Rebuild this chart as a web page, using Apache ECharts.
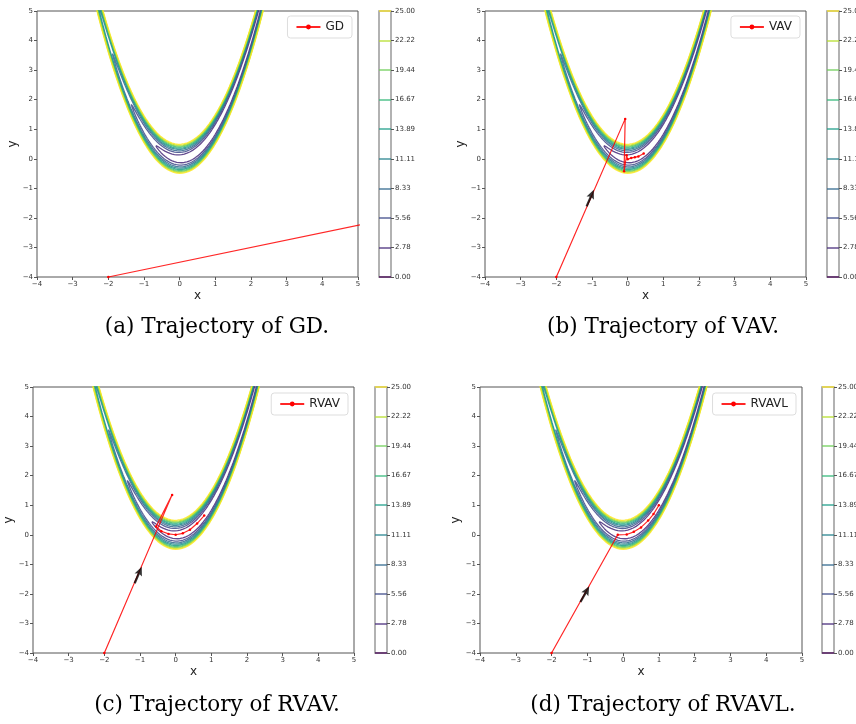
<!DOCTYPE html>
<html>
<head>
<meta charset="utf-8">
<script src="https://cdn.jsdelivr.net/npm/echarts@6/dist/echarts.min.js"></script>
<style>
  html, body { margin: 0; padding: 0; background: #fff; }
  #chart { width: 856px; height: 724px; }
</style>
</head>
<body>
<div id="chart"></div>
<script>
// contour levels shown on the colorbars and their viridis colours
const levels = [0, 2.78, 5.56, 8.33, 11.11, 13.89, 16.67, 19.44, 22.22, 25];
const levelColors = ['#440154', '#472a7a', '#3e4a89', '#31688e', '#26828e',
                     '#1f9e89', '#35b779', '#6ece58', '#b5de2b', '#fde725'];
// Rosenbrock f(x,y) = (a-x)^2 + b(y-x^2)^2
const rosenA = 1;
const rosenB = 100;

// trajectories
const gdX = [-2, 12];
const gdY = [-4, -0.5];
const vavX = [-2, -0.07, -0.1, -0.03, 0.0, 0.1, 0.2, 0.3, 0.45];
const vavY = [-4, 1.35, -0.42, 0.12, -0.02, 0.03, 0.05, 0.08, 0.18];
const rvavX = [-2, -0.1, -0.55, -0.4, -0.2, 0.0, 0.2, 0.4, 0.6, 0.8];
const rvavY = [-4, 1.35, 0.28, 0.12, 0.03, 0.0, 0.05, 0.17, 0.38, 0.65];
const rvavlX = [-2, -0.15, 0.1, 0.3, 0.5, 0.7, 0.85, 1.0];
const rvavlY = [-4, 0.0, 0.01, 0.1, 0.25, 0.48, 0.7, 1.0];
// black arrow markers (centre point) for b, c, d
const arrowX = [null, -1.05, -1.05, -1.07];
const arrowY = [null, -1.33, -1.36, -2.01];

const names = ['GD', 'VAV', 'RVAV', 'RVAVL'];
const captions = ['(a) Trajectory of GD.', '(b) Trajectory of VAV.',
                  '(c) Trajectory of RVAV.', '(d) Trajectory of RVAVL.'];
const trajX = [gdX, vavX, rvavX, rvavlX];
const trajY = [gdY, vavY, rvavY, rvavlY];

const mainGrids = [
  {left: 37, top: 11, width: 321, height: 266},
  {left: 485, top: 11, width: 321, height: 266},
  {left: 33, top: 387, width: 321, height: 266},
  {left: 480, top: 387, width: 322, height: 266}
];
const barGrids = [
  {left: 379, top: 11, width: 12, height: 266},
  {left: 827, top: 11, width: 12, height: 266},
  {left: 375, top: 387, width: 12, height: 266},
  {left: 822, top: 387, width: 12, height: 266}
];
const legendPos = [
  {right: 504, top: 16}, {right: 56, top: 16},
  {right: 508, top: 393}, {right: 60, top: 393}
];
const captionPos = [[217, 327], [663, 327], [217, 705], [663, 705]];

function contourLine(c) {
  const pts = [];
  const n = 720;
  for (let i = 0; i <= n; i++) {
    const t = 2 * Math.PI * i / n;
    const x = rosenA - Math.sqrt(c) * Math.cos(t);
    pts.push([x, x * x + Math.sqrt(c / rosenB) * Math.sin(t)]);
  }
  return pts;
}

const mfmt = v => (v < 0 ? '\u2212' + (-v) : '' + v);
const tickFont = {fontFamily: 'DejaVu Sans', fontSize: 7, color: '#333'};

const grid = [], xAxis = [], yAxis = [], series = [], legend = [], graphic = [];

for (let p = 0; p < 4; p++) {
  grid.push(Object.assign({show: true, borderColor: '#555', borderWidth: 1,
    containLabel: false, outerBoundsMode: 'none'}, mainGrids[p]));
  xAxis.push({
    type: 'value', gridIndex: p, min: -4, max: 5, interval: 1,
    name: 'x', nameLocation: 'middle', nameGap: 13,
    nameTextStyle: {fontFamily: 'DejaVu Sans', fontSize: 12, color: '#222'},
    axisLine: {show: false, onZero: false}, splitLine: {show: false},
    axisTick: {show: true, length: 3, lineStyle: {color: '#555'}},
    axisLabel: Object.assign({margin: 4, formatter: mfmt}, tickFont)
  });
  yAxis.push({
    type: 'value', gridIndex: p, min: -4, max: 5, interval: 1,
    name: 'y', nameLocation: 'middle', nameGap: 16,
    nameTextStyle: {fontFamily: 'DejaVu Sans', fontSize: 12, color: '#222'},
    axisLine: {show: false, onZero: false}, splitLine: {show: false},
    axisTick: {show: true, length: 3, lineStyle: {color: '#555'}},
    axisLabel: Object.assign({margin: 4, formatter: mfmt}, tickFont)
  });
}
for (let p = 0; p < 4; p++) {
  grid.push(Object.assign({show: true, borderColor: '#999', borderWidth: 1.5,
    containLabel: false, outerBoundsMode: 'none'}, barGrids[p]));
  xAxis.push({type: 'value', gridIndex: 4 + p, min: 0, max: 1, show: false});
  yAxis.push({
    type: 'value', gridIndex: 4 + p, min: 0, max: 25, position: 'right',
    axisLine: {show: false, onZero: false}, splitLine: {show: false},
    axisTick: {show: true, length: 3, customValues: levels, lineStyle: {color: '#555'}},
    axisLabel: Object.assign({margin: 4, customValues: levels, formatter: v => v.toFixed(2)}, tickFont)
  });
}

for (let p = 0; p < 4; p++) {
  for (let k = 1; k < levels.length; k++) {
    series.push({
      type: 'line', xAxisIndex: p, yAxisIndex: p, silent: true,
      data: contourLine(levels[k]), showSymbol: false,
      lineStyle: {color: levelColors[k], width: 1.3, opacity: 0.85}
    });
  }
  series.push({
    type: 'line', name: names[p], xAxisIndex: p, yAxisIndex: p, z: 5,
    data: trajX[p].map((x, i) => [x, trajY[p][i]]),
    symbol: 'circle', symbolSize: 2.5, showSymbol: true,
    itemStyle: {color: '#ff0000'},
    lineStyle: {color: '#ff0000', width: 1.2, opacity: 0.85}
  });
  if (arrowX[p] !== null) {
    series.push({
      type: 'scatter', id: 'arrow' + p, xAxisIndex: p, yAxisIndex: p, z: 6, silent: true,
      data: [[arrowX[p], arrowY[p]]],
      symbol: 'path://M5,0 L10,10 L6.4,8.6 L6.4,20 L3.6,20 L3.6,8.6 L0,10 Z',
      symbolSize: [8, 18], symbolKeepAspect: false,
      itemStyle: {color: '#000'}
    });
  }
  series.push({
    type: 'line', xAxisIndex: 4 + p, yAxisIndex: 4 + p, silent: true,
    data: [], showSymbol: false,
    markLine: {
      silent: true, symbol: 'none', label: {show: false}, animation: false,
      data: levels.map((c, k) => ({yAxis: c, lineStyle: {color: levelColors[k], width: 1.5, type: 'solid', opacity: 0.85}}))
    }
  });
  legend.push(Object.assign({
    data: [names[p]], orient: 'vertical',
    backgroundColor: '#fff', borderColor: '#ddd', borderWidth: 1, borderRadius: 3,
    padding: [5, 8, 5, 8], itemWidth: 24, itemHeight: 6, itemGap: 0,
    textStyle: {fontFamily: 'DejaVu Sans', fontSize: 12, color: '#222'}
  }, legendPos[p]));
  graphic.push({
    type: 'text', x: captionPos[p][0], y: captionPos[p][1],
    style: {text: captions[p], fill: '#000', font: '21.5px "DejaVu Serif"',
            textAlign: 'center', textVerticalAlign: 'middle'}
  });
}

const chart = echarts.init(document.getElementById('chart'));
chart.setOption({animation: false, grid, xAxis, yAxis, series, legend, graphic});

// rotate arrows along the first segment of each trajectory
const upd = [];
for (let p = 1; p < 4; p++) {
  const a = chart.convertToPixel({gridIndex: p}, [trajX[p][0], trajY[p][0]]);
  const b = chart.convertToPixel({gridIndex: p}, [trajX[p][1], trajY[p][1]]);
  const ang = Math.atan2(b[0] - a[0], -(b[1] - a[1])) * 180 / Math.PI;
  upd.push({id: 'arrow' + p, symbolRotate: -ang});
}
chart.setOption({series: upd});
</script>
</body>
</html>
